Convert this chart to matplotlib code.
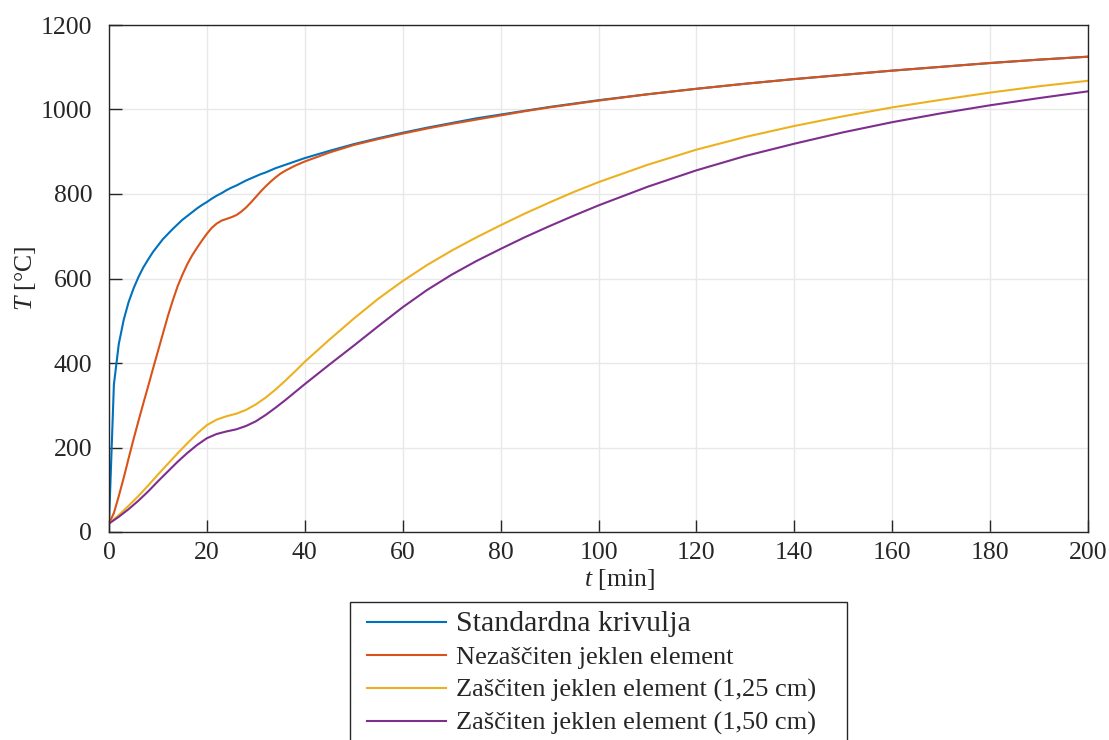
import matplotlib
matplotlib.use("Agg")
import matplotlib.pyplot as plt
from matplotlib.patches import Rectangle

plt.rcParams["font.family"] = ["Liberation Serif", "DejaVu Serif"]
plt.rcParams["mathtext.fontset"] = "custom"
plt.rcParams["mathtext.rm"] = "Liberation Serif"
plt.rcParams["mathtext.it"] = "Liberation Serif:italic"

# time [min] for the fire curve and the unprotected member
t_fast = list(range(0, 41)) + [45, 50, 55, 60, 65, 70, 75, 80, 85, 90, 95,
                               100, 110, 120, 130, 140, 150, 160, 170, 180,
                               190, 200]
# time [min] for the protected members
t_slow = list(range(0, 41, 2)) + [45, 50, 55, 60, 65, 70, 75, 80, 85, 90, 95,
                                  100, 110, 120, 130, 140, 150, 160, 170, 180,
                                  190, 200]

# temperatures [°C]
standard_curve = [20, 349, 445, 502, 544, 576, 603, 626, 645, 663, 678, 693,
                  705, 717, 728, 739, 748, 757, 766, 774, 781, 789, 796, 802,
                  809, 815, 820, 826, 832, 837, 842, 847, 851, 856, 861, 865,
                  869, 873, 877, 881, 885,
                  902, 918, 932, 945, 957, 968, 979, 988, 997, 1006, 1014,
                  1022, 1036, 1049, 1061, 1072, 1082, 1092, 1101, 1110, 1118,
                  1125]
unprotected = [20, 45, 85, 128, 174, 219, 262, 304, 345, 387, 428, 469, 510,
               547, 581, 609, 634, 655, 673, 690, 706, 720, 730, 737, 741,
               745, 750, 758, 768, 780, 793, 806, 818, 829, 839, 848, 855,
               861, 867, 872, 877,
               898, 916, 930, 943, 955, 966, 976, 986, 996, 1005, 1013,
               1021, 1036, 1049, 1061, 1072, 1082, 1092, 1101, 1110, 1118,
               1125]
protected_125 = [20, 40, 62, 85, 110, 136, 161, 186, 210, 233, 253, 266, 274,
                 280, 289, 302, 318, 337, 358, 380, 403,
                 455, 505, 552, 594, 632, 666, 697, 726, 754, 780, 805,
                 828, 869, 905, 935, 961, 984, 1005, 1023, 1040, 1055, 1068]
protected_150 = [20, 36, 54, 74, 96, 120, 143, 166, 187, 206, 222, 232, 238,
                 243, 251, 262, 277, 294, 312, 331, 350,
                 396, 441, 487, 532, 573, 609, 641, 670, 698, 724, 749,
                 773, 817, 856, 890, 919, 946, 970, 991, 1010, 1027, 1043]

labels = ["Standardna krivulja",
          "Nezaščiten jeklen element",
          "Zaščiten jeklen element (1,25 cm)",
          "Zaščiten jeklen element (1,50 cm)"]
colors = ["#0072BD", "#D95319", "#EDB120", "#7E2F8E"]

x_ticks = [0, 20, 40, 60, 80, 100, 120, 140, 160, 180, 200]
y_ticks = [0, 200, 400, 600, 800, 1000, 1200]

W, H = 1109, 740
fig = plt.figure(figsize=(W / 100, H / 100), dpi=100)
ax = fig.add_axes([109 / W, 1 - 532 / H, (1088 - 109) / W, (532 - 25) / H])

series = [(t_fast, standard_curve), (t_fast, unprotected),
          (t_slow, protected_125), (t_slow, protected_150)]
for (tt, values), lab, col in zip(series, labels, colors):
    ax.plot(tt, values, color=col, lw=1.5, label=lab, solid_joinstyle="round")

ax.set_xlim(0, 200)
ax.set_ylim(0, 1200)
ax.set_xticks(x_ticks)
ax.set_yticks(y_ticks)
ax.grid(True, color="#E8E8E8", lw=1.0)
ax.set_axisbelow(True)

axis_col = "#262626"
for sp in ax.spines.values():
    sp.set_color(axis_col)
    sp.set_linewidth(1.0)
ax.tick_params(direction="in", length=9, width=1.0, color=axis_col,
               labelcolor=axis_col, labelsize=18.5, top=False, right=False)
ax.tick_params(axis="y", pad=12)
ax.tick_params(axis="x", pad=7)

ax.set_xlabel("$t$ [min]", fontsize=18.5, color=axis_col, labelpad=0)
ax.xaxis.set_label_coords((619 - 109) / (1088 - 109), -(580 - 532) / (532 - 25),
                          transform=ax.transAxes)
ax.xaxis.label.set_va("center")
ax.set_ylabel("$T$ [°C]", fontsize=18.5, color=axis_col, labelpad=2)

# legend entries without their own frame; the box is drawn separately below
leg = fig.legend(loc="upper left", bbox_to_anchor=(367 / W, 1 - 611 / H),
                 borderaxespad=0, borderpad=0, fontsize=19, frameon=False,
                 handlelength=3.0, handletextpad=0.38, labelspacing=0.34,
                 labelcolor=axis_col)
leg.get_texts()[0].set_fontsize(21.5)
fig.patches.append(Rectangle((350 / W, -0.05), 497 / W, 0.05 + 1 - 602 / H,
                             transform=fig.transFigure, fill=False,
                             edgecolor=axis_col, lw=1.0))

fig.savefig("out.png", dpi=100)
